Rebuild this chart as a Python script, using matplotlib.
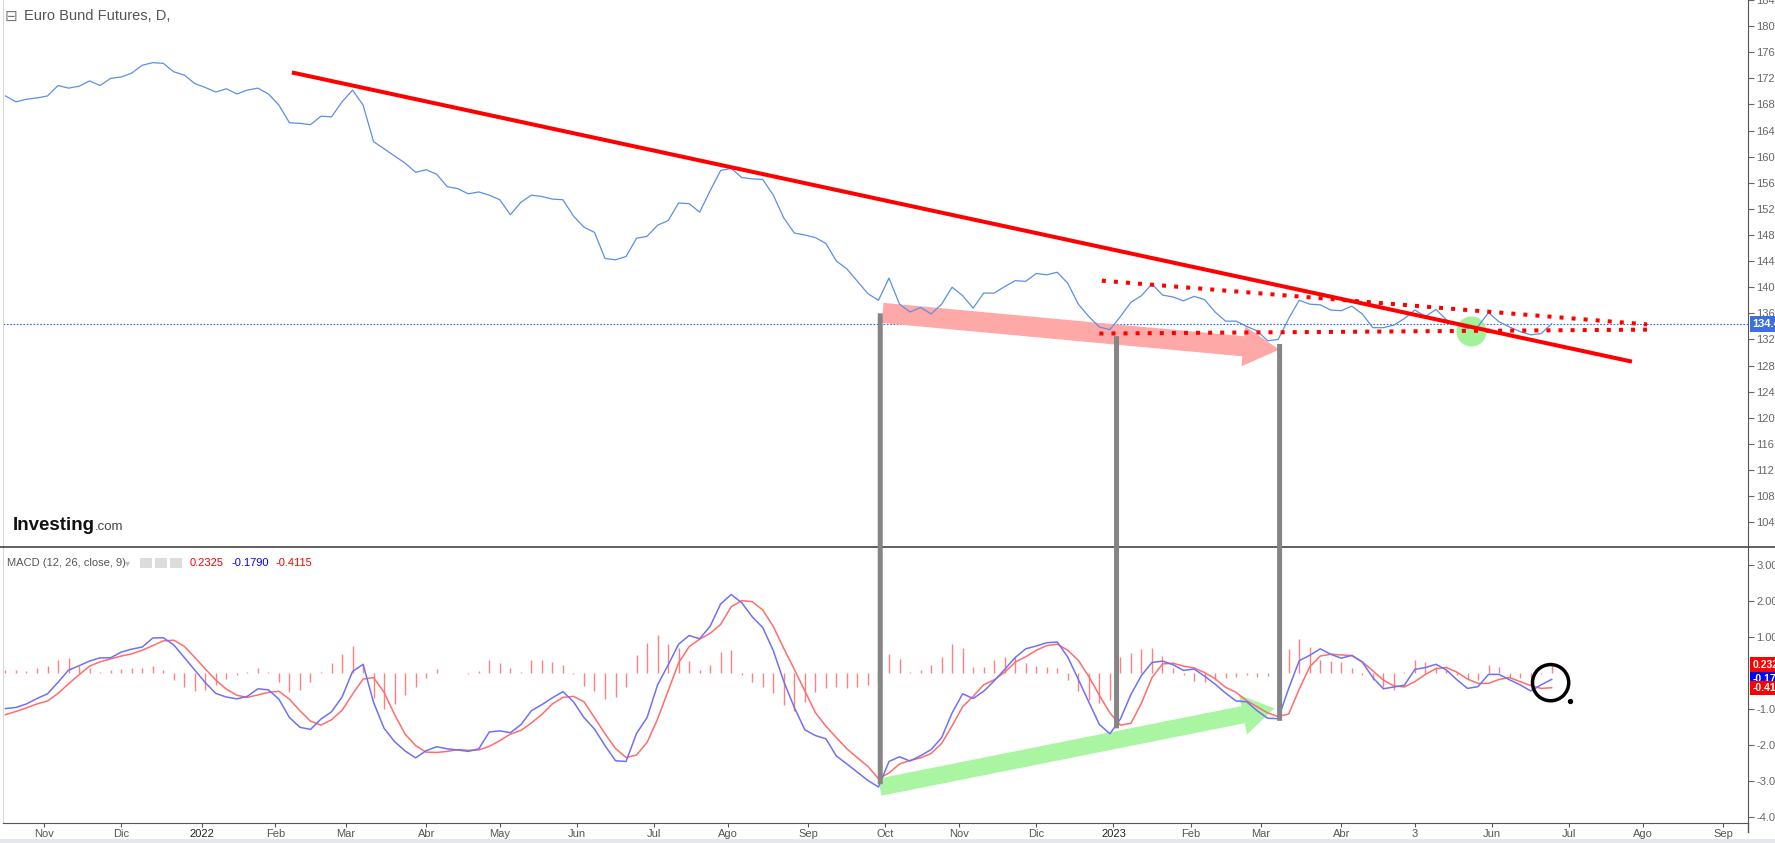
import matplotlib.pyplot as plt
import matplotlib.transforms as mtransforms
from matplotlib.patches import ConnectionPatch, FancyArrowPatch, Rectangle
from matplotlib.lines import Line2D
import pandas as pd

# precio cada 3 sesiones, desde 2021-10-15
price = [169.3, 168.4, 168.8, 169.0, 169.3, 170.9, 170.5, 170.8, 171.6, 170.9,
         172.0, 172.2, 172.8, 174.0, 174.4, 174.3, 173.0, 172.5, 171.2, 170.6,
         169.9, 170.4, 169.6, 170.2, 170.5, 169.6, 167.9, 165.2, 165.1, 164.9,
         166.2, 166.1, 168.4, 170.2, 167.9, 162.3, 161.2, 160.1, 159.0, 157.6,
         158.0, 157.3, 155.4, 155.1, 154.3, 154.6, 154.1, 153.4, 151.1, 153.0,
         154.1, 153.9, 153.5, 153.4, 150.9, 149.2, 148.4, 144.4, 144.2, 144.7,
         147.5, 147.8, 149.5, 150.2, 152.9, 152.8, 151.5, 154.8, 157.9, 158.2,
         156.8, 156.6, 156.5, 154.1, 150.6, 148.3,
         148.0, 147.6, 146.7, 144.0, 142.8, 140.9, 139.0, 138.0, 141.4, 137.4,
         136.2, 136.9, 135.9, 137.4, 140.0, 138.7, 136.8, 139.1, 139.1, 140.1,
         141.0, 140.9, 142.1, 141.9, 142.3, 140.6, 137.4, 135.5, 133.9, 133.5,
         135.5, 137.7, 138.7, 140.5, 138.8, 138.5, 137.9, 138.6, 138.1, 136.2,
         134.8, 134.8, 134.0, 133.3, 131.8, 132.0, 135.2, 138.0, 137.4, 137.3,
         136.5, 136.4, 137.1, 135.9, 133.8, 133.8, 134.2, 135.2, 136.5, 135.5,
         136.6, 135.0, 134.2, 133.7, 134.0, 136.1, 134.7, 133.9, 133.2, 132.7,
         132.9, 134.4]

macd = [-0.99, -0.96, -0.86, -0.71, -0.58, -0.26, 0.08, 0.20, 0.33, 0.42,
        0.42, 0.58, 0.66, 0.72, 0.97, 0.98, 0.78, 0.43, 0.08, -0.27,
        -0.57, -0.67, -0.72, -0.65, -0.44, -0.47, -0.73, -1.24, -1.51, -1.57,
        -1.28, -1.08, -0.67, 0.04, 0.24, -0.82, -1.54, -1.91, -2.17, -2.36,
        -2.16, -2.05, -2.11, -2.14, -2.18, -2.11, -1.64, -1.61, -1.66, -1.44,
        -1.05, -0.88, -0.69, -0.52, -0.80, -1.24, -1.56, -2.02, -2.44, -2.46,
        -1.68, -1.24, -0.33, 0.22, 0.80, 1.04, 0.95, 1.30, 1.92, 2.18,
        1.95, 1.56, 1.26, 0.62, -0.24, -0.96,
        -1.58, -1.74, -1.83, -2.31, -2.53, -2.76, -2.99, -3.17, -2.46, -2.33,
        -2.45, -2.30, -2.13, -1.80, -1.11, -0.58, -0.71, -0.51, -0.22, 0.10,
        0.43, 0.67, 0.75, 0.84, 0.86, 0.44, -0.18, -0.81, -1.43, -1.69,
        -1.28, -0.60, -0.07, 0.29, 0.33, 0.23, 0.07, 0.11, -0.09, -0.31,
        -0.56, -0.78, -0.80, -1.05, -1.26, -1.27, -0.43, 0.34, 0.49, 0.67,
        0.52, 0.41, 0.49, 0.30, -0.13, -0.44, -0.39, -0.34, 0.10, 0.15,
        0.24, 0.08, -0.19, -0.43, -0.38, -0.04, -0.04, -0.19, -0.33, -0.50,
        -0.33, -0.18]

signal = [-1.16, -1.07, -0.97, -0.86, -0.78, -0.57, -0.30, -0.05, 0.19, 0.31,
          0.39, 0.47, 0.53, 0.63, 0.76, 0.89, 0.91, 0.74, 0.43, 0.11,
          -0.20, -0.45, -0.62, -0.68, -0.61, -0.54, -0.51, -0.73, -1.05, -1.34,
          -1.45, -1.30, -1.04, -0.59, -0.17, -0.13, -0.54, -1.16, -1.70, -2.02,
          -2.20, -2.21, -2.18, -2.13, -2.15, -2.14, -2.04, -1.88, -1.70, -1.60,
          -1.39, -1.15, -0.86, -0.68, -0.65, -0.80, -1.24, -1.69, -2.10, -2.35,
          -2.28, -1.93, -1.28, -0.50, 0.28, 0.73, 0.94, 1.10, 1.35, 1.84,
          2.01, 1.98, 1.75, 1.29, 0.68, 0.10,
          -0.50, -1.10, -1.48, -1.80, -2.11, -2.36, -2.60, -2.94, -2.78, -2.53,
          -2.43, -2.36, -2.24, -1.96, -1.47, -0.94, -0.65, -0.33, -0.19, 0.02,
          0.30, 0.45, 0.63, 0.76, 0.80, 0.63, 0.35, -0.10, -0.62, -1.11,
          -1.45, -1.40, -0.84, -0.13, 0.25, 0.27, 0.19, 0.14, 0.01, -0.16,
          -0.40, -0.54, -0.77, -0.94, -1.11, -1.21, -1.14, -0.45, 0.17, 0.47,
          0.52, 0.50, 0.48, 0.31, 0.06, -0.20, -0.36, -0.39, -0.24, -0.04,
          0.12, 0.15, 0.02, -0.17, -0.29, -0.29, -0.18, -0.13, -0.24, -0.35,
          -0.43, -0.41]

hist = [0.08, 0.08, 0.06, 0.15, 0.20, 0.36, 0.42, 0.20, 0.13, 0.02,
        0.07, 0.10, 0.13, 0.15, 0.20, 0.07, -0.20, -0.39, -0.50, -0.47,
        -0.33, -0.17, -0.06, 0.02, 0.15, 0.03, -0.24, -0.54, -0.47, -0.24,
        0.02, 0.28, 0.52, 0.76, 0.22, -0.70, -1.00, -0.85, -0.61, -0.38,
        -0.15, 0.10, 0.01, -0.01, -0.04, 0.05, 0.36, 0.27, 0.13, 0.02,
        0.36, 0.36, 0.31, 0.22, -0.04, -0.35, -0.50, -0.72, -0.66, -0.38,
        0.50, 0.82, 1.05, 0.80, 0.68, 0.33, 0.08, 0.22, 0.59, 0.64,
        -0.06, -0.26, -0.38, -0.57, -0.89, -1.06,
        -0.82, -0.54, -0.41, -0.39, -0.43, -0.38, -0.33, -0.24, 0.52, 0.40,
        0.02, 0.08, 0.22, 0.45, 0.81, 0.68, 0.17, 0.17, 0.36, 0.45,
        0.43, 0.27, 0.20, 0.17, 0.15, -0.20, -0.50, -0.75, -0.84, -0.75,
        0.45, 0.55, 0.67, 0.68, 0.48, 0.15, -0.06, -0.22, -0.24, -0.20,
        -0.15, -0.11, -0.06, -0.10, -0.08, 0.02, 0.67, 0.94, 0.73, 0.36,
        0.33, 0.31, 0.13, -0.07, -0.20, -0.38, -0.47, 0.03, 0.36, 0.31,
        0.17, 0.08, -0.06, -0.17, -0.20, 0.22, 0.17, -0.11, -0.13, -0.13,
        -0.02, 0.23]

tick_dates = ['2021-11-01', '2021-12-01', '2022-01-03', '2022-02-01', '2022-03-01',
              '2022-04-01', '2022-05-02', '2022-06-01', '2022-07-01', '2022-08-01',
              '2022-09-01', '2022-10-03', '2022-11-01', '2022-12-01', '2023-01-02',
              '2023-02-01', '2023-03-01', '2023-04-03', '2023-05-02', '2023-06-01',
              '2023-07-03', '2023-08-01', '2023-09-01']
tick_labels = ['Nov', 'Dic', '2022', 'Feb', 'Mar', 'Abr', 'May', 'Jun', 'Jul', 'Ago',
               'Sep', 'Oct', 'Nov', 'Dic', '2023', 'Feb', 'Mar', 'Abr', '3', 'Jun',
               'Jul', 'Ago', 'Sep']

last_price = 134.4
legend_vals = ['0.2325', '-0.1790', '-0.4115']
legend_cols = ['#ff0000', '#0000ff', '#ff0000']
legend_pos = [0.2325, -0.1790, -0.4115]

# dibujos (en sesiones desde 2021-11-01)
trend_x, trend_y = [70.7, 452.9], [172.9, 128.6]
upper_x, upper_y = [301.7, 457.2], [141.0, 134.3]
lower_x, lower_y = [301.0, 457.2], [132.9, 133.5]
pink_arrow = [(238.4, 136.1), (353.1, 130.4)]
green_arrow = [(237.6, -3.19), (351.7, -0.97)]
verticals = [(238.5, 136.0, -3.09), (305.9, 132.5, -1.54), (352.4, 131.3, -1.33)]

plt.rcParams['font.family'] = ['Liberation Sans', 'DejaVu Sans']

# eje de sesiones
days = pd.bdate_range('2021-09-01', '2023-12-29')
base = days.get_loc(pd.Timestamp('2021-11-01'))
def bar(d):
    return days.get_loc(pd.Timestamp(d)) - base

sample_days = pd.bdate_range('2021-10-15', periods=len(price) * 3)[::3][:len(price)]
x = [bar(d) for d in sample_days]

W, H = 1775, 843
fig = plt.figure(figsize=(W / 100, H / 100), dpi=100)
fx = lambda p: p / W
fy = lambda p: 1 - p / H
ax1 = fig.add_axes([fx(3), fy(547), fx(1745), 547 / H])
ax2 = fig.add_axes([fx(3), fy(823), fx(1745), 276 / H], sharex=ax1)

# panel precio
ax1.plot(x, price, color='#5b8fe6', lw=0.9, zorder=2)
ax1.axhline(last_price, color='#3366dd', lw=0.8, ls=(0, (1.5, 1.5)), zorder=1)
ax1.plot(trend_x, trend_y, color='#ff0000', lw=2.9, zorder=3, solid_capstyle='butt')
ax1.plot(upper_x, upper_y, color='#ff0000', lw=2.9, ls=(0, (1, 2)), dash_capstyle='butt', zorder=3)
ax1.plot(lower_x, lower_y, color='#ff0000', lw=2.9, ls=(0, (1, 2)), dash_capstyle='butt', zorder=3)
ax1.add_patch(FancyArrowPatch(pink_arrow[0], pink_arrow[1], mutation_scale=1,
                              arrowstyle='simple,head_length=26,head_width=29,tail_width=14.5',
                              color='#ffa8a8', lw=0, zorder=1.5))
ax1.scatter([407.1], [133.3], s=470, color='#a2f29c', lw=0, zorder=1.6)
ax1.set_xlim(-11.7, 486.0)
ax1.set_ylim(100.2, 184.0)
ax1.yaxis.tick_right()
ax1.set_yticks(range(104, 185, 4))
ax1.set_yticklabels(['%.3f' % v for v in range(104, 185, 4)])
ax1.tick_params(axis='y', length=4, color='#666', labelsize=8, labelcolor='#666', pad=2)
ax1.tick_params(axis='x', bottom=False, labelbottom=False)

blend1 = mtransforms.blended_transform_factory(ax1.transAxes, ax1.transData)
ax1.text(1.0025, last_price, '134.400', transform=blend1, fontsize=8, color='white',
         fontweight='bold', va='center', ha='left', clip_on=False, zorder=10,
         bbox=dict(boxstyle='square,pad=0.25', fc='#3d6fe0', ec='none'))

# panel MACD
ax2.vlines(x, 0, hist, color='#ff8080', lw=1.0, zorder=1)
ax2.plot(x, signal, color='#ff6d6d', lw=1.1, zorder=2)
ax2.plot(x, macd, color='#7070f5', lw=1.1, zorder=2)
ax2.add_patch(FancyArrowPatch(green_arrow[0], green_arrow[1], mutation_scale=1,
                              arrowstyle='simple,head_length=23,head_width=29,tail_width=12.5',
                              color='#aaf5a2', lw=0, zorder=0.5))
ax2.scatter([429.7], [-0.27], s=680, facecolors='none', edgecolors='black', linewidths=2.5, zorder=5)
ax2.scatter([435.1], [-0.77], s=8, color='black', zorder=5)
ax2.set_ylim(-4.17, 3.5)
ax2.yaxis.tick_right()
mticks = [3, 2, 1, -1, -2, -3, -4]
ax2.set_yticks(mticks)
ax2.set_yticklabels(['%.3f' % v for v in mticks])
ax2.tick_params(axis='y', length=4, color='#666', labelsize=8, labelcolor='#666', pad=2)
ax2.set_xticks([bar(d) for d in tick_dates])
ax2.set_xticklabels(tick_labels)
ax2.tick_params(axis='x', length=3, color='#555', labelsize=8, labelcolor='#555', pad=1.5)
for lab in ax2.get_xticklabels():
    if lab.get_text() in ('2022', '2023'):
        lab.set_color('#222')

blend2 = mtransforms.blended_transform_factory(ax2.transAxes, ax2.transData)
for v, t, c in zip(legend_pos, legend_vals, legend_cols):
    ax2.text(1.0025, v, t, transform=blend2, fontsize=7.5, color='white', fontweight='bold',
             va='center', ha='left', clip_on=False, zorder=10,
             bbox=dict(boxstyle='square,pad=0.2', fc=c, ec='none'))

for ax in (ax1, ax2):
    ax.spines['top'].set_visible(False)
    ax.spines['left'].set_color('#d8d8d8')
    ax.spines['right'].set_color('#555')
    ax.spines['bottom'].set_color('#555')
ax1.spines['bottom'].set_visible(False)

# líneas grises entre paneles
for bx, ptop, mbot in verticals:
    con = ConnectionPatch(xyA=(bx, ptop), coordsA='data', axesA=ax1,
                          xyB=(bx, mbot), coordsB='data', axesB=ax2,
                          color='#858585', lw=3.6, capstyle='butt', zorder=6)
    fig.add_artist(con)

# marcos
fig.add_artist(Line2D([0, 1], [fy(547), fy(547)], color='#444', lw=1.2))
fig.add_artist(Line2D([fx(1748), fx(1748)], [fy(823), fy(832)], color='#555', lw=1.0))
fig.add_artist(Rectangle((0, 0), 1, 4 / H, transform=fig.transFigure, color='#e6e6ee', lw=0))

# textos
fig.text(fx(5), fy(16), '\u229f', fontsize=11, color='#777', va='center', family='DejaVu Sans')
fig.text(fx(24), fy(16), 'Euro Bund Futures, D,', fontsize=10.5, color='#555', va='center')
fig.text(fx(13), fy(530), 'Investing', fontsize=13.5, fontweight='bold', color='#111', va='baseline')
fig.text(fx(95), fy(530), '.com', fontsize=9.5, color='#444', va='baseline')
fig.text(fx(7), fy(563), 'MACD (12, 26, close, 9)', fontsize=8, color='#555', va='center')
fig.text(fx(125), fy(563), '\u25be', fontsize=7, color='#bbb', va='center', family='DejaVu Sans')
for px in (140, 155, 170):
    fig.add_artist(Rectangle((fx(px), fy(568)), 12 / W, 10 / H, transform=fig.transFigure,
                             color='#dcdcdc', lw=0))
for px, t, c in zip((190, 231, 276), legend_vals, legend_cols):
    fig.text(fx(px), fy(563), t, fontsize=8, color=c, va='center')

fig.savefig('out.png', dpi=100)
